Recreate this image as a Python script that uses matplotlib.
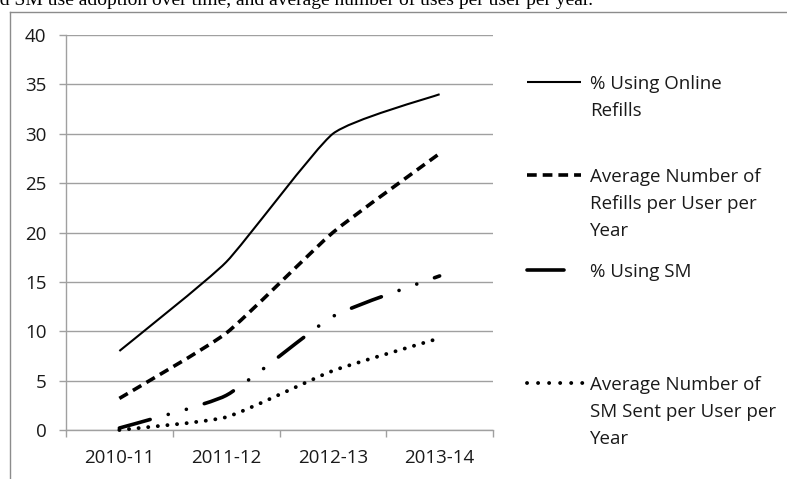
import numpy as np
import matplotlib
matplotlib.use('Agg')
import matplotlib.pyplot as plt
from matplotlib.path import Path
from matplotlib.patches import PathPatch
from matplotlib.lines import Line2D

# ---------------- data ----------------
categories = ['2010-11', '2011-12', '2012-13', '2013-14']
pct_online_refills = [8, 17, 30, 34]
avg_refills_per_user = [3.2, 9.8, 20, 28]
pct_using_sm = [0.2, 3.5, 11.5, 15.6]
avg_sm_sent_per_user = [0, 1.3, 6, 9.3]
series_labels = ['% Using Online\nRefills',
                 'Average Number of\nRefills per User per\nYear',
                 '% Using SM',
                 'Average Number of\nSM Sent per User per\nYear']
y_ticks = [0, 5, 10, 15, 20, 25, 30, 35, 40]
caption = 'Online refill and SM use adoption over time, and average number of uses per user per year.'

plt.rcParams['lines.scale_dashes'] = False
FONT = ['Open Sans', 'DejaVu Sans']
TXT = '#1a1a1a'
GRID = '#a0a0a0'

W, H = 787, 479
fig = plt.figure(figsize=(W / 100, H / 100), dpi=100)
fig.patch.set_facecolor('white')


def fx(px):
    return px / W


def fy(py):
    return 1 - py / H


ax = fig.add_axes([fx(66), fy(430), fx(493) - fx(66), fy(35) - fy(430)])

# styles
styles = [
    dict(lw=1.5, ls='-', cap='butt'),
    dict(lw=2.6, ls=(0, (7.0, 4.3)), cap='butt'),
    dict(lw=2.6, ls=(0, (23.0, 13.5, 0.05, 13.5, 0.05, 13.5)), cap='round'),
    dict(lw=2.8, ls=(0, (0.05, 6.9)), cap='round'),
]
legend_ls = ['-', (0, (7.0, 4.3)), '-', (0, (0.05, 7.9))]
series = [pct_online_refills, avg_refills_per_user, pct_using_sm, avg_sm_sent_per_user]

SMOOTH = 1.0 / 12.0


def smooth_path(xs, ys):
    pts = np.column_stack([xs, ys]).astype(float)
    n = len(pts)
    verts = [pts[0]]
    codes = [Path.MOVETO]
    for i in range(n - 1):
        p0 = pts[i - 1] if i > 0 else pts[i]
        p1 = pts[i]
        p2 = pts[i + 1]
        p3 = pts[i + 2] if i + 2 < n else pts[i + 1]
        c1 = p1 + (p2 - p0) * SMOOTH
        c2 = p2 - (p3 - p1) * SMOOTH
        verts += [c1, c2, p2]
        codes += [Path.CURVE4] * 3
    return Path(verts, codes)


xs = np.arange(len(categories))
for vals, st in zip(series, styles):
    patch = PathPatch(smooth_path(xs, vals), facecolor='none', edgecolor='black',
                      lw=st['lw'], linestyle=st['ls'], capstyle=st['cap'],
                      joinstyle='round', clip_on=False, zorder=3)
    ax.add_patch(patch)

ax.set_xlim(-0.5, len(categories) - 0.5)
ax.set_ylim(0, 40)

# axes styling
for s in ['top', 'right']:
    ax.spines[s].set_visible(False)
for s in ['left', 'bottom']:
    ax.spines[s].set_color(GRID)
    ax.spines[s].set_linewidth(1.0)
ax.set_yticks(y_ticks)
ax.set_yticklabels([str(v) for v in y_ticks], fontfamily=FONT, fontsize=13.5, color=TXT)
ax.yaxis.grid(True, color=GRID, lw=1.0)
ax.set_axisbelow(True)
ax.tick_params(axis='y', length=5, width=1.0, color=GRID, pad=9)

ax.set_xticks(np.arange(len(categories) + 1) - 0.5)
ax.set_xticklabels([])
ax.tick_params(axis='x', which='major', length=5, width=1.0, color=GRID)
ax.set_xticks(xs, minor=True)
ax.set_xticklabels(categories, minor=True, fontfamily=FONT, fontsize=13.5, color=TXT)
ax.tick_params(axis='x', which='minor', length=0, pad=14)

# legend (manual)
leg_y = [82, 175, 270, 383]
leg_x0 = [527, 527, 527, 527]
leg_x1 = [581, 581, 564, 583]
for st, lls, lab, yy, x0, x1 in zip(styles, legend_ls, series_labels, leg_y, leg_x0, leg_x1):
    ln = Line2D([fx(x0), fx(x1)], [fy(yy), fy(yy)], transform=fig.transFigure,
                color='black', lw=st['lw'], linestyle=lls,
                solid_capstyle=st['cap'], dash_capstyle=st['cap'])
    fig.add_artist(ln)
    for k, line in enumerate(lab.split('\n')):
        fig.text(fx(590), fy(yy + 7 + 27 * k), line, fontfamily=FONT, fontsize=13.5,
                 color=TXT, ha='left', va='baseline')

# chart frame
fig.add_artist(Line2D([fx(10), fx(10)], [fy(12), 0], transform=fig.transFigure,
                      color='#8c8c8c', lw=1.0))
fig.add_artist(Line2D([fx(10), 1], [fy(12), fy(12)], transform=fig.transFigure,
                      color='#8c8c8c', lw=1.0))

# caption of the surrounding page, cut by the top edge as in the source
fig.text(fx(593), fy(5), caption, fontfamily=['Liberation Serif', 'DejaVu Serif'],
         fontsize=14, color='black', ha='right', va='baseline')

fig.savefig('out.png', dpi=100, facecolor='white')
